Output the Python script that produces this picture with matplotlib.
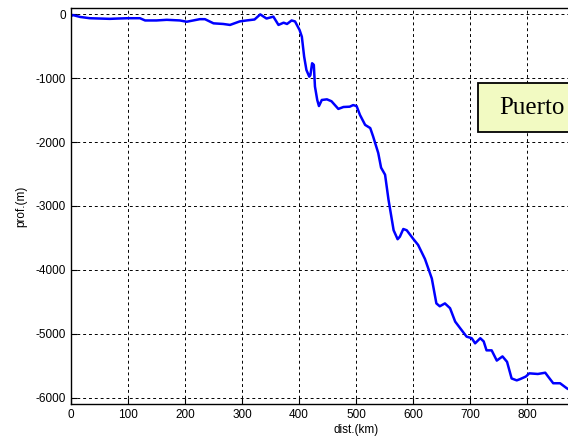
import matplotlib
matplotlib.use("Agg")
import matplotlib.pyplot as plt
from matplotlib.patches import Rectangle

# profile: distance (km) and depth (m)
dist = [0, 3, 16, 33, 68, 82, 100, 121, 130, 150, 168, 191, 203, 226, 235, 250, 267,
        279, 296, 308, 322, 332, 343, 355, 364, 373, 379, 387, 393, 401, 405, 409, 413,
        418, 420, 423, 426, 428, 432, 435, 440, 449, 457, 469, 478, 489, 495, 501, 507,
        516, 525, 530, 539, 544, 551, 557, 566, 573, 577, 583, 589, 600, 609, 621, 633,
        641, 647, 656, 665, 674, 685, 694, 703, 709, 718, 724, 729, 738, 747, 757, 765,
        773, 782, 788, 798, 804, 819, 832, 837, 846, 858, 870, 880]
depth = [-30, -10, -40, -60, -70, -65, -60, -60, -95, -95, -85, -95, -115, -75, -75, -140, -150,
         -165, -110, -95, -80, 0, -65, -35, -165, -130, -150, -95, -110, -245, -350, -660, -870,
         -975, -950, -765, -790, -1130, -1340, -1435, -1340, -1330, -1360, -1480, -1450, -1445, -1420, -1435, -1575,
         -1730, -1780, -1910, -2170, -2400, -2510, -2900, -3380, -3520, -3480, -3360, -3380, -3510, -3610, -3830, -4135,
         -4525, -4570, -4525, -4600, -4810, -4940, -5045, -5070, -5150, -5070, -5120, -5260, -5260, -5420, -5355, -5440,
         -5700, -5730, -5710, -5670, -5620, -5630, -5610, -5670, -5775, -5775, -5855, -5900]

xticks = [0, 100, 200, 300, 400, 500, 600, 700, 800]
yticks = [-6000, -5000, -4000, -3000, -2000, -1000, 0]
label = 'Puerto'

plt.rcParams['font.family'] = ['Liberation Sans', 'DejaVu Sans']
plt.rcParams['axes.unicode_minus'] = False

fig = plt.figure(figsize=(5.68, 4.45), dpi=100)
# axes run past the right edge of the picture (the original is cropped)
ax = fig.add_axes([71/568, 41/445, 570/568, 396/445])
ax.plot(dist, depth, color='#0000ff', linewidth=1.8)
ax.set_xlim(0, 1000)
ax.set_ylim(-6100, 100)
ax.set_xticks(xticks)
ax.set_yticks(yticks)
ax.tick_params(direction='in', labelsize=8.5, length=4, width=0.8)
ax.grid(True, color='black', linestyle=(0, (3, 3)), linewidth=0.7)
for s in ax.spines.values():
    s.set_linewidth(1.0)
ax.set_xlabel('dist.(km)', fontsize=8.5, labelpad=2)
ax.set_ylabel('prof.(m)', fontsize=8.5, labelpad=6)

# label box, also cut by the right edge
ax.add_patch(Rectangle((714, -1842), 400, 768, facecolor='#f2fac2',
                       edgecolor='black', linewidth=1.3, zorder=3))
ax.text(751, -1458, label, family=['Liberation Serif', 'DejaVu Serif'],
        fontsize=18, va='center', ha='left', zorder=4)

fig.savefig('out.png', dpi=100)
